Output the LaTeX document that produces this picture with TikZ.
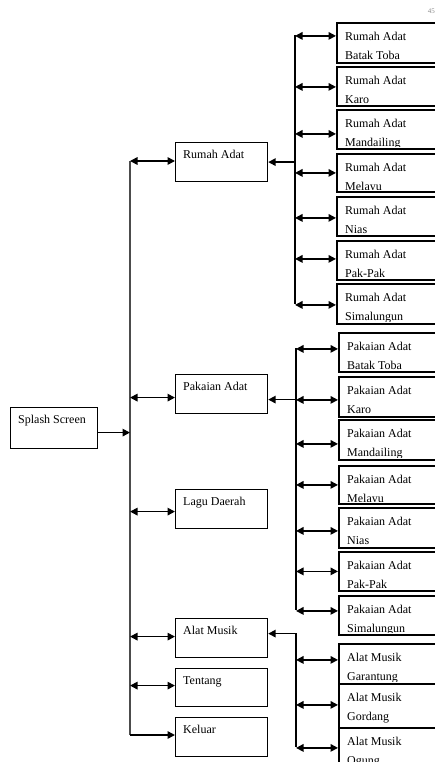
\documentclass[tikz,border=0pt]{standalone}
\usepackage{fontspec}
\setmainfont{Liberation Serif}
\usetikzlibrary{arrows.meta}
\tikzset{
  boxL/.style={draw, line width=1.2pt, inner sep=0pt, anchor=north west},
  boxR/.style={draw, line width=1.8pt, inner sep=0pt, anchor=north west},
  lbl/.style={inner sep=0pt, anchor=north west, align=left, font=\fontsize{12}{19}\selectfont},
  conn/.style={line width=1.6pt},
  trunk/.style={line width=1.3pt, draw=black!70},
  dbl/.style={conn, {Triangle[length=7.5pt,width=7.5pt]}-{Triangle[length=7.5pt,width=7.5pt]}},
  sgl/.style={conn, -{Triangle[length=7.5pt,width=7.5pt]}},
}
\newcommand\leftbox[4]{%
  \node[boxL, minimum width=92pt, minimum height={#3pt-#2pt}] (#1) at (175,#2) {};
  \node[lbl] (#1t) at ([xshift=8pt,yshift=-2.7pt]#1.north west) {\strut #4};
}
\newcommand\rightbox[5]{%
  \node[boxR, minimum width=140pt, minimum height={#4pt-#3pt}] (#1) at (#2,#3) {};
  \begin{scope}
    \clip ([xshift=1pt,yshift=-1pt]#1.north west) rectangle ([yshift=3pt]#1.south east);
    \node[lbl] (#1t) at ([xshift=9pt,yshift=-4.7pt]#1.north west) {\strut #5};
  \end{scope}
}
\newcommand\subarrow[3]{%
  \draw[dbl] ([yshift=#3pt]#2.west -| #1) -- ([yshift=#3pt]#2.west);
}
\begin{document}
\begin{tikzpicture}[x=1pt,y=-1pt]
\useasboundingbox (0,0) rectangle (435,762);
\clip (0,0) rectangle (435,762);

% page number
\node[font=\fontsize{7}{8}\selectfont, text=black!45, anchor=east, inner sep=0pt] (pg) at (435,11) {45};

% splash
\node[boxL, minimum width=87pt, minimum height=41pt] (splash) at (10,407) {};
\node[lbl] (splasht) at ([xshift=8pt,yshift=-2.7pt]splash.north west) {\strut Splash Screen};

% main menu boxes
\leftbox{rumah}{142}{181}{Rumah Adat}
\leftbox{pakaian}{374}{413}{Pakaian Adat}
\leftbox{lagu}{489}{528}{Lagu Daerah}
\leftbox{alat}{618}{657}{Alat Musik}
\leftbox{tentang}{668}{706}{Tentang}
\leftbox{keluar}{717}{756}{Keluar}

% trunk
\coordinate (tTop) at (130,161);
\coordinate (tBot) at (130,735);
\draw[trunk] (tTop) -- (tBot);
\draw[sgl] ([yshift=-4.5pt]splash.east) -- ([yshift=-4.5pt]splash.east -| tTop);
\draw[dbl] (tTop) -- (tTop -| rumah.west);
\draw[dbl] ([yshift=-3.5pt]pakaian.west -| tTop) -- ([yshift=-3.5pt]pakaian.west);
\draw[dbl] ([yshift=-2.5pt]lagu.west -| tTop) -- ([yshift=-2.5pt]lagu.west);
\draw[dbl] ([yshift=1.5pt]alat.west -| tTop) -- ([yshift=1.5pt]alat.west);
\draw[dbl] ([yshift=2pt]tentang.west -| tTop) -- ([yshift=2pt]tentang.west);
\draw[sgl] (tBot) -- (tBot -| keluar.west);

% Rumah Adat sub boxes
\rightbox{r1}{336}{22}{62}{Rumah Adat\\\strut Batak Toba}
\rightbox{r2}{336}{66}{105}{Rumah Adat\\\strut Karo}
\rightbox{r3}{336}{109}{148}{Rumah Adat\\\strut Mandailing}
\rightbox{r4}{336}{153}{191}{Rumah Adat\\\strut Melayu}
\rightbox{r5}{336}{196}{235}{Rumah Adat\\\strut Nias}
\rightbox{r6}{336}{240}{279}{Rumah Adat\\\strut Pak-Pak}
\rightbox{r7}{336}{283}{323}{Rumah Adat\\\strut Simalungun}
\coordinate (rbTop) at (295,35);
\coordinate (rbBot) at (295,304);
\draw[conn] (rbTop) -- (rbBot);
\draw[sgl] (rumah.east -| rbTop) -- (rumah.east);
\subarrow{rbTop}{r1}{7}
\subarrow{rbTop}{r2}{-0.5}
\subarrow{rbTop}{r3}{-4.5}
\subarrow{rbTop}{r4}{0}
\subarrow{rbTop}{r5}{-1.5}
\subarrow{rbTop}{r6}{1.5}
\subarrow{rbTop}{r7}{-1}

% Pakaian Adat sub boxes
\rightbox{p1}{338}{332}{371}{Pakaian Adat\\\strut Batak Toba}
\rightbox{p2}{338}{376}{416}{Pakaian Adat\\\strut Karo}
\rightbox{p3}{338}{419}{459}{Pakaian Adat\\\strut Mandailing}
\rightbox{p4}{338}{465}{503}{Pakaian Adat\\\strut Melayu}
\rightbox{p5}{338}{507}{547}{Pakaian Adat\\\strut Nias}
\rightbox{p6}{338}{551}{590}{Pakaian Adat\\\strut Pak-Pak}
\rightbox{p7}{338}{595}{634}{Pakaian Adat\\\strut Simalungun}
\coordinate (pbTop) at (296,348);
\coordinate (pbBot) at (296,610);
\draw[conn] (pbTop) -- (pbBot);
\draw[sgl] ([yshift=-5.5pt]pakaian.east -| pbTop) -- ([yshift=-5.5pt]pakaian.east);
\subarrow{pbTop}{p1}{3.5}
\subarrow{pbTop}{p2}{-3}
\subarrow{pbTop}{p3}{-4}
\subarrow{pbTop}{p4}{0}
\subarrow{pbTop}{p5}{-3}
\subarrow{pbTop}{p6}{0}
\subarrow{pbTop}{p7}{4.5}

% Alat Musik sub boxes
\rightbox{a1}{338}{643}{683}{Alat Musik\\\strut Garantung}
\rightbox{a2}{338}{683}{727}{Alat Musik\\\strut Gordang}
\rightbox{a3}{338}{727}{770}{Alat Musik\\\strut Ogung}
\coordinate (abTop) at (296,633);
\coordinate (abBot) at (296,747);
\draw[conn] (abTop) -- (abBot);
\draw[sgl] ([yshift=4.5pt]alat.east -| abTop) -- ([yshift=4.5pt]alat.east);
\subarrow{abTop}{a1}{4}
\subarrow{abTop}{a2}{1}
\subarrow{abTop}{a3}{1.5}
\end{tikzpicture}
\end{document}
